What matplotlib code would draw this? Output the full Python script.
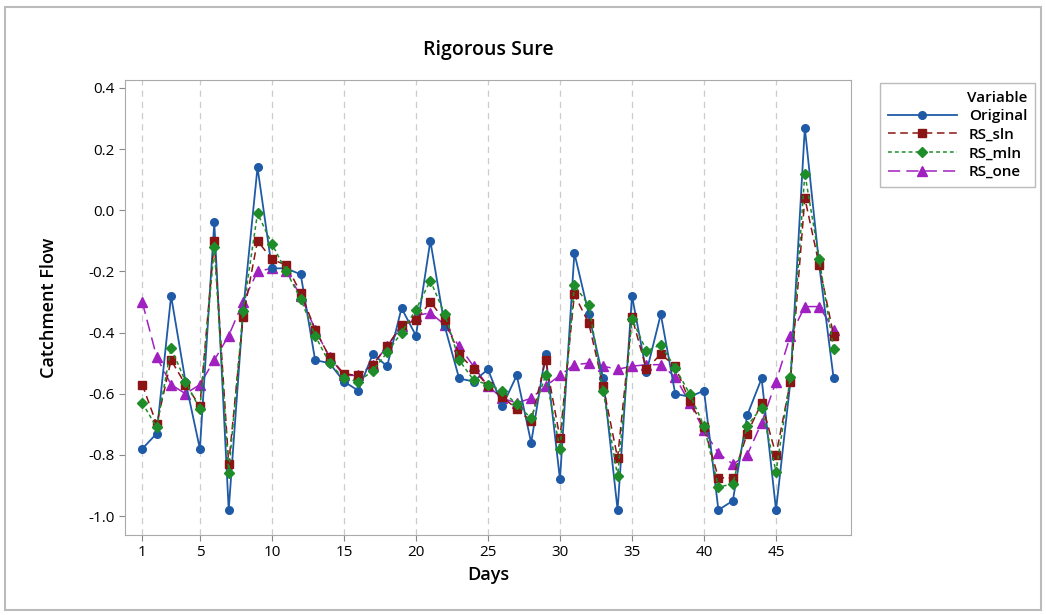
import numpy as np
import matplotlib
matplotlib.use("Agg")
import matplotlib.pyplot as plt
from matplotlib.patches import Rectangle

plt.rcParams['font.family'] = ['Open Sans', 'DejaVu Sans']

# data
days = list(range(1, 50))
original = [-0.78, -0.73, -0.28, -0.56, -0.78, -0.04, -0.98, -0.33, 0.14, -0.19,
            -0.19, -0.21, -0.49, -0.50, -0.56, -0.59, -0.47, -0.51, -0.32, -0.41,
            -0.10, -0.38, -0.55, -0.56, -0.52, -0.64, -0.54, -0.76, -0.47, -0.88,
            -0.14, -0.34, -0.55, -0.98, -0.28, -0.53, -0.34, -0.60, -0.61, -0.59,
            -0.98, -0.95, -0.67, -0.55, -0.98, -0.56, 0.27, -0.18, -0.55]
rs_sln = [-0.57, -0.70, -0.49, -0.57, -0.64, -0.10, -0.83, -0.35, -0.10, -0.16,
          -0.18, -0.27, -0.39, -0.48, -0.535, -0.54, -0.505, -0.445, -0.375, -0.36,
          -0.30, -0.36, -0.47, -0.52, -0.575, -0.61, -0.65, -0.69, -0.49, -0.745,
          -0.275, -0.37, -0.575, -0.81, -0.35, -0.52, -0.47, -0.51, -0.625, -0.71,
          -0.875, -0.875, -0.73, -0.63, -0.80, -0.56, 0.04, -0.18, -0.41]
rs_mln = [-0.63, -0.71, -0.45, -0.56, -0.65, -0.12, -0.86, -0.33, -0.01, -0.11,
          -0.20, -0.29, -0.41, -0.50, -0.55, -0.56, -0.525, -0.465, -0.40, -0.325,
          -0.23, -0.34, -0.49, -0.555, -0.57, -0.59, -0.635, -0.68, -0.54, -0.78,
          -0.245, -0.31, -0.59, -0.87, -0.355, -0.46, -0.44, -0.515, -0.60, -0.705,
          -0.905, -0.895, -0.705, -0.645, -0.855, -0.545, 0.12, -0.16, -0.455]
rs_one = [-0.30, -0.48, -0.57, -0.60, -0.57, -0.49, -0.41, -0.30, -0.20, -0.19,
          -0.20, -0.28, -0.39, -0.48, -0.54, -0.54, -0.505, -0.445, -0.38, -0.345,
          -0.335, -0.375, -0.445, -0.51, -0.575, -0.615, -0.63, -0.615, -0.575, -0.54,
          -0.505, -0.50, -0.51, -0.52, -0.51, -0.505, -0.505, -0.545, -0.63, -0.72,
          -0.795, -0.83, -0.80, -0.695, -0.56, -0.41, -0.315, -0.315, -0.39]

xticks = [1, 5, 10, 15, 20, 25, 30, 35, 40, 45]
yticks = [0.4, 0.2, 0.0, -0.2, -0.4, -0.6, -0.8, -1.0]

fig = plt.figure(figsize=(10.46, 6.15), dpi=100)
ax = fig.add_axes([0.1195, 0.130, 0.694, 0.740])

for xv in xticks:
    ax.axvline(xv, color='#cccccc', lw=0.9, ls=(0, (5, 4)), zorder=0)

ax.plot(days, original, color='#1f5aa6', lw=1.3, ls='-', marker='o', ms=5.5,
        label='Original', zorder=3)
ax.plot(days, rs_sln, color='#8b1414', lw=1.1, ls=(0, (5, 3)), marker='s', ms=6,
        label='RS_sln', zorder=4)
ax.plot(days, rs_mln, color='#1e8c28', lw=1.1, ls=(0, (2.5, 2)), marker='D', ms=5.5,
        label='RS_mln', zorder=5)
ax.plot(days, rs_one, color='#a020c0', lw=1.1, ls=(0, (8, 4)), marker='^', ms=6.5,
        label='RS_one', zorder=2)

ax.set_xlim(-0.2, 50.2)
ax.set_ylim(-1.062, 0.426)
ax.set_xticks(xticks)
ax.set_yticks(yticks)
ax.set_yticklabels(['%.1f' % v for v in yticks])
ax.tick_params(direction='out', length=4, color='#888888', labelsize=11)
for s in ax.spines.values():
    s.set_color('#aaaaaa')

ax.set_title('Rigorous Sure', fontsize=14, fontweight='semibold', pad=18)
ax.set_xlabel('Days', fontsize=13, fontweight='semibold')
ax.set_ylabel('Catchment Flow', fontsize=13, fontweight='semibold', labelpad=22)

leg = ax.legend(title='Variable', loc='upper left', bbox_to_anchor=(1.03, 1.01),
                fontsize=11, title_fontsize=11, frameon=True, fancybox=False,
                edgecolor='#aaaaaa', handlelength=4.5, borderpad=0.5,
                labelspacing=0.3, alignment='right')
leg.get_title().set_fontweight('semibold')
for t in leg.get_texts():
    t.set_fontweight('semibold')

fig.patches.append(Rectangle((0.005, 0.008), 0.99, 0.98, transform=fig.transFigure,
                             fill=False, edgecolor='#bbbbbb', lw=1.5))

fig.savefig('out.png', dpi=100)
